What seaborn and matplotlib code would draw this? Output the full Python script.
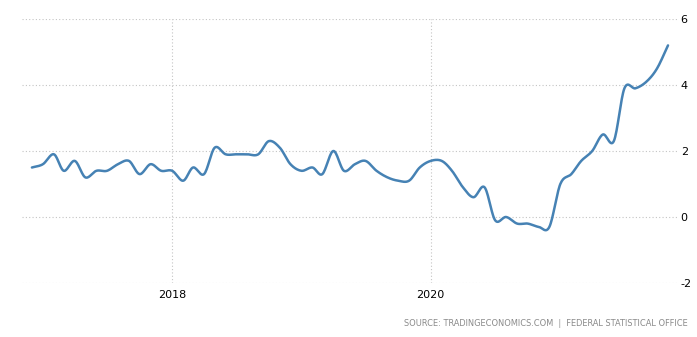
import numpy as np
import pandas as pd
import matplotlib
matplotlib.use("Agg")
import matplotlib.pyplot as plt
import matplotlib.dates as mdates
import seaborn as sns

# Annual inflation rate (%), monthly, Dec 2016 - Nov 2021
first_month = "2016-12-01"
inflation = [
    1.5,                                                          # 2016-12
    1.6, 1.9, 1.4, 1.7, 1.2, 1.4, 1.4, 1.6, 1.7, 1.3, 1.6, 1.4,   # 2017
    1.4, 1.1, 1.5, 1.3, 2.1, 1.9, 1.9, 1.9, 1.9, 2.3, 2.1, 1.6,   # 2018
    1.4, 1.5, 1.3, 2.0, 1.4, 1.6, 1.7, 1.4, 1.2, 1.1, 1.1, 1.5,   # 2019
    1.7, 1.7, 1.4, 0.9, 0.6, 0.9, -0.1, 0.0, -0.2, -0.2, -0.3, -0.3,  # 2020
    1.0, 1.3, 1.7, 2.0, 2.5, 2.3, 3.9, 3.9, 4.1, 4.5, 5.2,        # 2021
]
x_tick_dates = ["2018-01-01", "2020-01-01"]
x_tick_labels = ["2018", "2020"]
y_ticks = [-2, 0, 2, 4, 6]
source_text = "SOURCE: TRADINGECONOMICS.COM  |  FEDERAL STATISTICAL OFFICE"

months = pd.date_range(first_month, periods=len(inflation), freq="MS")
df = pd.DataFrame({"month": months, "value": inflation})


def catmull_rom(x, y, steps=16):
    """Smooth spline path through every (x, y) point for display."""
    x = np.asarray(x, float)
    y = np.asarray(y, float)
    px = np.concatenate([[2 * x[0] - x[1]], x, [2 * x[-1] - x[-2]]])
    py = np.concatenate([[2 * y[0] - y[1]], y, [2 * y[-1] - y[-2]]])
    out_x, out_y = [], []
    t = np.linspace(0, 1, steps, endpoint=False)
    for i in range(1, len(px) - 2):
        for arr, out in ((px, out_x), (py, out_y)):
            p0, p1, p2, p3 = arr[i - 1], arr[i], arr[i + 1], arr[i + 2]
            seg = 0.5 * ((2 * p1) + (-p0 + p2) * t
                         + (2 * p0 - 5 * p1 + 4 * p2 - p3) * t ** 2
                         + (-p0 + 3 * p1 - 3 * p2 + p3) * t ** 3)
            out.extend(seg)
    out_x.append(x[-1])
    out_y.append(y[-1])
    return np.array(out_x), np.array(out_y)


xnum = mdates.date2num(df["month"])
sx, sy = catmull_rom(xnum, df["value"])
curve = pd.DataFrame({"x": sx, "y": sy})

sns.set_style("white")
plt.rcParams["font.family"] = ["DejaVu Sans"]

fig = plt.figure(figsize=(6.97, 3.37), dpi=100)
W, H = 697, 337
left, right, top, bottom = 22, 676.5, 19, 283
ax = fig.add_axes([left / W, 1 - bottom / H, (right - left) / W, (bottom - top) / H])

sns.lineplot(data=curve, x="x", y="y", ax=ax, color="#4682b4",
             linewidth=1.8, sort=False, estimator=None)

ax.set_xlim(mdates.date2num(pd.Timestamp("2016-11-03")),
            mdates.date2num(pd.Timestamp("2021-11-25")))
ax.set_ylim(-2, 6)

ax.set_xticks(mdates.date2num(pd.to_datetime(x_tick_dates)))
ax.set_xticklabels(x_tick_labels)
ax.set_yticks(y_ticks)
ax.set_yticklabels([str(v) for v in y_ticks])
ax.yaxis.tick_right()
ax.tick_params(axis="both", length=0, labelsize=8, colors="#000000")
ax.tick_params(axis="y", pad=3)
ax.tick_params(axis="x", pad=5)

ax.grid(True, color="#c4c4c4", linestyle=(0, (1, 2)), linewidth=0.8)
ax.set_axisbelow(True)
for s in ax.spines.values():
    s.set_visible(False)
ax.set_xlabel("")
ax.set_ylabel("")

fig.text(688 / W, 1 - 324 / H, source_text, ha="right", va="center",
         fontsize=5.95, color="#8a8a8a")

fig.savefig("out.png", dpi=100)
